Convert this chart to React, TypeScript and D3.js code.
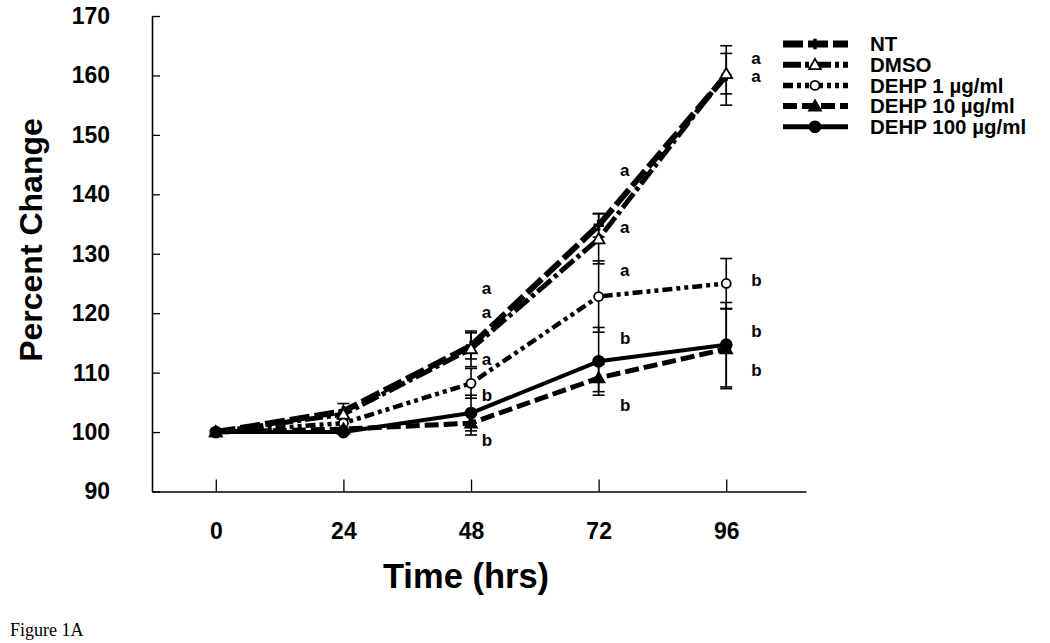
import { useEffect, useRef } from 'react';
import * as d3 from 'd3';

// hours after treatment
const hours = [0, 24, 48, 72, 96];

const seriesNames = ['NT', 'DMSO', 'DEHP 1 µg/ml', 'DEHP 10 µg/ml', 'DEHP 100 µg/ml'];

// percent change (mean) and error
const ntMean = [100, 103.5, 114.5, 134.8, 160];
const ntErr = [0, 1.3, 2.2, 2, 5];
const dmsoMean = [100, 103, 114, 132.5, 160.3];
const dmsoErr = [0, 0, 3, 4.2, 3.4];
const dehp1Mean = [100, 101.5, 108.2, 122.8, 125];
const dehp1Err = [0, 0, 2.5, 6, 4.2];
const dehp10Mean = [100, 100.5, 101.5, 109.1, 114];
const dehp10Err = [0, 0, 2, 2.3, 6.7];
const dehp100Mean = [100, 100, 103.2, 111.9, 114.7];
const dehp100Err = [0, 0, 3, 5.7, 7.1];

const yTicks = [90, 100, 110, 120, 130, 140, 150, 160, 170];
const xTicks = [0, 24, 48, 72, 96];

// significance letters: anchor hour of each column, level of each letter
const sigColumns = [50, 76, 100.7];
const sigLevels = [
  [123.9, 120, 112.1, 106, 98.4],
  [143.8, 134.3, 127, 115.5, 104.3],
  [162.6, 159.6, 125.3, 116.7, 110.2],
];
const sigLetters = [
  ['a', 'a', 'a', 'b', 'b'],
  ['a', 'a', 'a', 'b', 'b'],
  ['a', 'a', 'b', 'b', 'b'],
];

const means = [ntMean, dmsoMean, dehp1Mean, dehp10Mean, dehp100Mean];
const errs = [ntErr, dmsoErr, dehp1Err, dehp10Err, dehp100Err];

type Marker = 'cross' | 'openTri' | 'openCircle' | 'tri' | 'circle';
const styles: { dash: string; width: number; marker: Marker }[] = [
  { dash: '20,5', width: 6, marker: 'cross' },
  { dash: '18,4,4,4', width: 5, marker: 'openTri' },
  { dash: '10,4,4,4,4,4', width: 4.5, marker: 'openCircle' },
  { dash: '14,5', width: 5, marker: 'tri' },
  { dash: 'none', width: 4, marker: 'circle' },
];

const SANS = "'Liberation Sans', Arial, Helvetica, sans-serif";

function drawMarker(g: d3.Selection<SVGGElement, unknown, null, undefined>, m: Marker, x: number, y: number) {
  if (m === 'cross') {
    g.append('path')
      .attr('transform', `translate(${x},${y})`)
      .attr('d', d3.symbol(d3.symbolCross, 60)())
      .attr('fill', '#000');
  } else if (m === 'openTri' || m === 'tri') {
    g.append('path')
      .attr('transform', `translate(${x},${y + 1})`)
      .attr('d', d3.symbol(d3.symbolTriangle, 60)())
      .attr('fill', m === 'tri' ? '#000' : '#fff')
      .attr('stroke', '#000')
      .attr('stroke-width', 1.8);
  } else {
    g.append('circle')
      .attr('cx', x)
      .attr('cy', y)
      .attr('r', m === 'circle' ? 5.5 : 4.5)
      .attr('fill', m === 'circle' ? '#000' : '#fff')
      .attr('stroke', '#000')
      .attr('stroke-width', 1.8);
  }
}

export default function App() {
  const svgRef = useRef<SVGSVGElement>(null);

  const width = 1050;
  const height = 643;

  useEffect(() => {
    const svg = d3.select(svgRef.current);
    svg.selectAll('*').remove();

    const x = d3.scaleLinear().domain([-12, 111]).range([152, 806]);
    const y = d3.scaleLinear().domain([90, 170]).range([491.5, 16]);

    // axes
    const yAxis = svg
      .append('g')
      .attr('transform', `translate(${x(-12)},0)`)
      .call(d3.axisLeft(y).tickValues(yTicks).tickSizeInner(-8).tickSizeOuter(0).tickPadding(42));
    const xAxis = svg
      .append('g')
      .attr('transform', `translate(0,${y(90)})`)
      .call(d3.axisBottom(x).tickValues(xTicks).tickSizeInner(-12).tickSizeOuter(0).tickPadding(31));
    [yAxis, xAxis].forEach((ax) => {
      ax.select('.domain').attr('stroke', '#000').attr('stroke-width', 1.6);
      ax.selectAll('.tick line').attr('stroke', '#000').attr('stroke-width', 1.3);
      ax.selectAll('.tick text')
        .attr('fill', '#000')
        .style('font-family', SANS)
        .style('font-weight', 'bold')
        .style('font-size', '23px');
    });

    const plot = svg.append('g');
    const line = d3
      .line<number>()
      .x((_, i) => x(hours[i]))
      .y((d) => y(d));

    // lines
    means.forEach((m, s) => {
      plot
        .append('path')
        .attr('d', line(m) ?? '')
        .attr('fill', 'none')
        .attr('stroke', '#000')
        .attr('stroke-width', styles[s].width)
        .attr('stroke-dasharray', styles[s].dash)
        .attr('stroke-linejoin', 'round');
    });

    // error bars
    means.forEach((m, s) => {
      m.forEach((v, i) => {
        const e = errs[s][i];
        if (e <= 0) return;
        const cx = x(hours[i]);
        const top = y(v + e);
        const bot = y(v - e);
        plot.append('line').attr('x1', cx).attr('x2', cx).attr('y1', top).attr('y2', bot)
          .attr('stroke', '#000').attr('stroke-width', 1.6);
        [top, bot].forEach((cy) => {
          plot.append('line').attr('x1', cx - 6).attr('x2', cx + 6).attr('y1', cy).attr('y2', cy)
            .attr('stroke', '#000').attr('stroke-width', 1.6);
        });
      });
    });

    // markers
    means.forEach((m, s) => {
      m.forEach((v, i) => drawMarker(plot, styles[s].marker, x(hours[i]), y(v)));
    });

    // significance letters
    sigColumns.forEach((h, c) => {
      sigLevels[c].forEach((lv, k) => {
        plot
          .append('text')
          .attr('x', x(h))
          .attr('y', y(lv))
          .attr('dy', '0.26em')
          .style('font-family', SANS)
          .style('font-weight', 'bold')
          .style('font-size', '17px')
          .text(sigLetters[c][k]);
      });
    });

    // legend
    const legend = svg.append('g').attr('transform', 'translate(783,44)');
    seriesNames.forEach((name, s) => {
      const row = legend.append('g').attr('transform', `translate(0,${s * 20.7})`);
      row.append('line').attr('x1', 0).attr('x2', 65).attr('y1', 0).attr('y2', 0)
        .attr('stroke', '#000')
        .attr('stroke-width', styles[s].width + 1)
        .attr('stroke-dasharray', styles[s].dash);
      drawMarker(row as any, styles[s].marker, 32, 0);
      row
        .append('text')
        .attr('x', 87)
        .attr('y', 0)
        .attr('dy', '0.36em')
        .style('font-family', SANS)
        .style('font-weight', 'bold')
        .style('font-size', '20.5px')
        .text(name);
    });

    // axis titles
    svg
      .append('text')
      .attr('transform', 'translate(42,240) rotate(-90)')
      .attr('text-anchor', 'middle')
      .style('font-family', SANS)
      .style('font-weight', 'bold')
      .style('font-size', '32px')
      .text('Percent Change');
    svg
      .append('text')
      .attr('x', 466)
      .attr('y', 588)
      .attr('text-anchor', 'middle')
      .style('font-family', SANS)
      .style('font-weight', 'bold')
      .style('font-size', '34.5px')
      .text('Time (hrs)');
    svg
      .append('text')
      .attr('x', 10)
      .attr('y', 636)
      .style('font-family', "'Liberation Serif', 'Times New Roman', serif")
      .style('font-size', '18px')
      .text('Figure 1A');
  }, []);

  return (
    <svg
      ref={svgRef}
      width={width}
      height={height}
      viewBox={`0 0 ${width} ${height}`}
      style={{ position: 'absolute', left: 0, top: 0, background: '#fff' }}
    />
  );
}
